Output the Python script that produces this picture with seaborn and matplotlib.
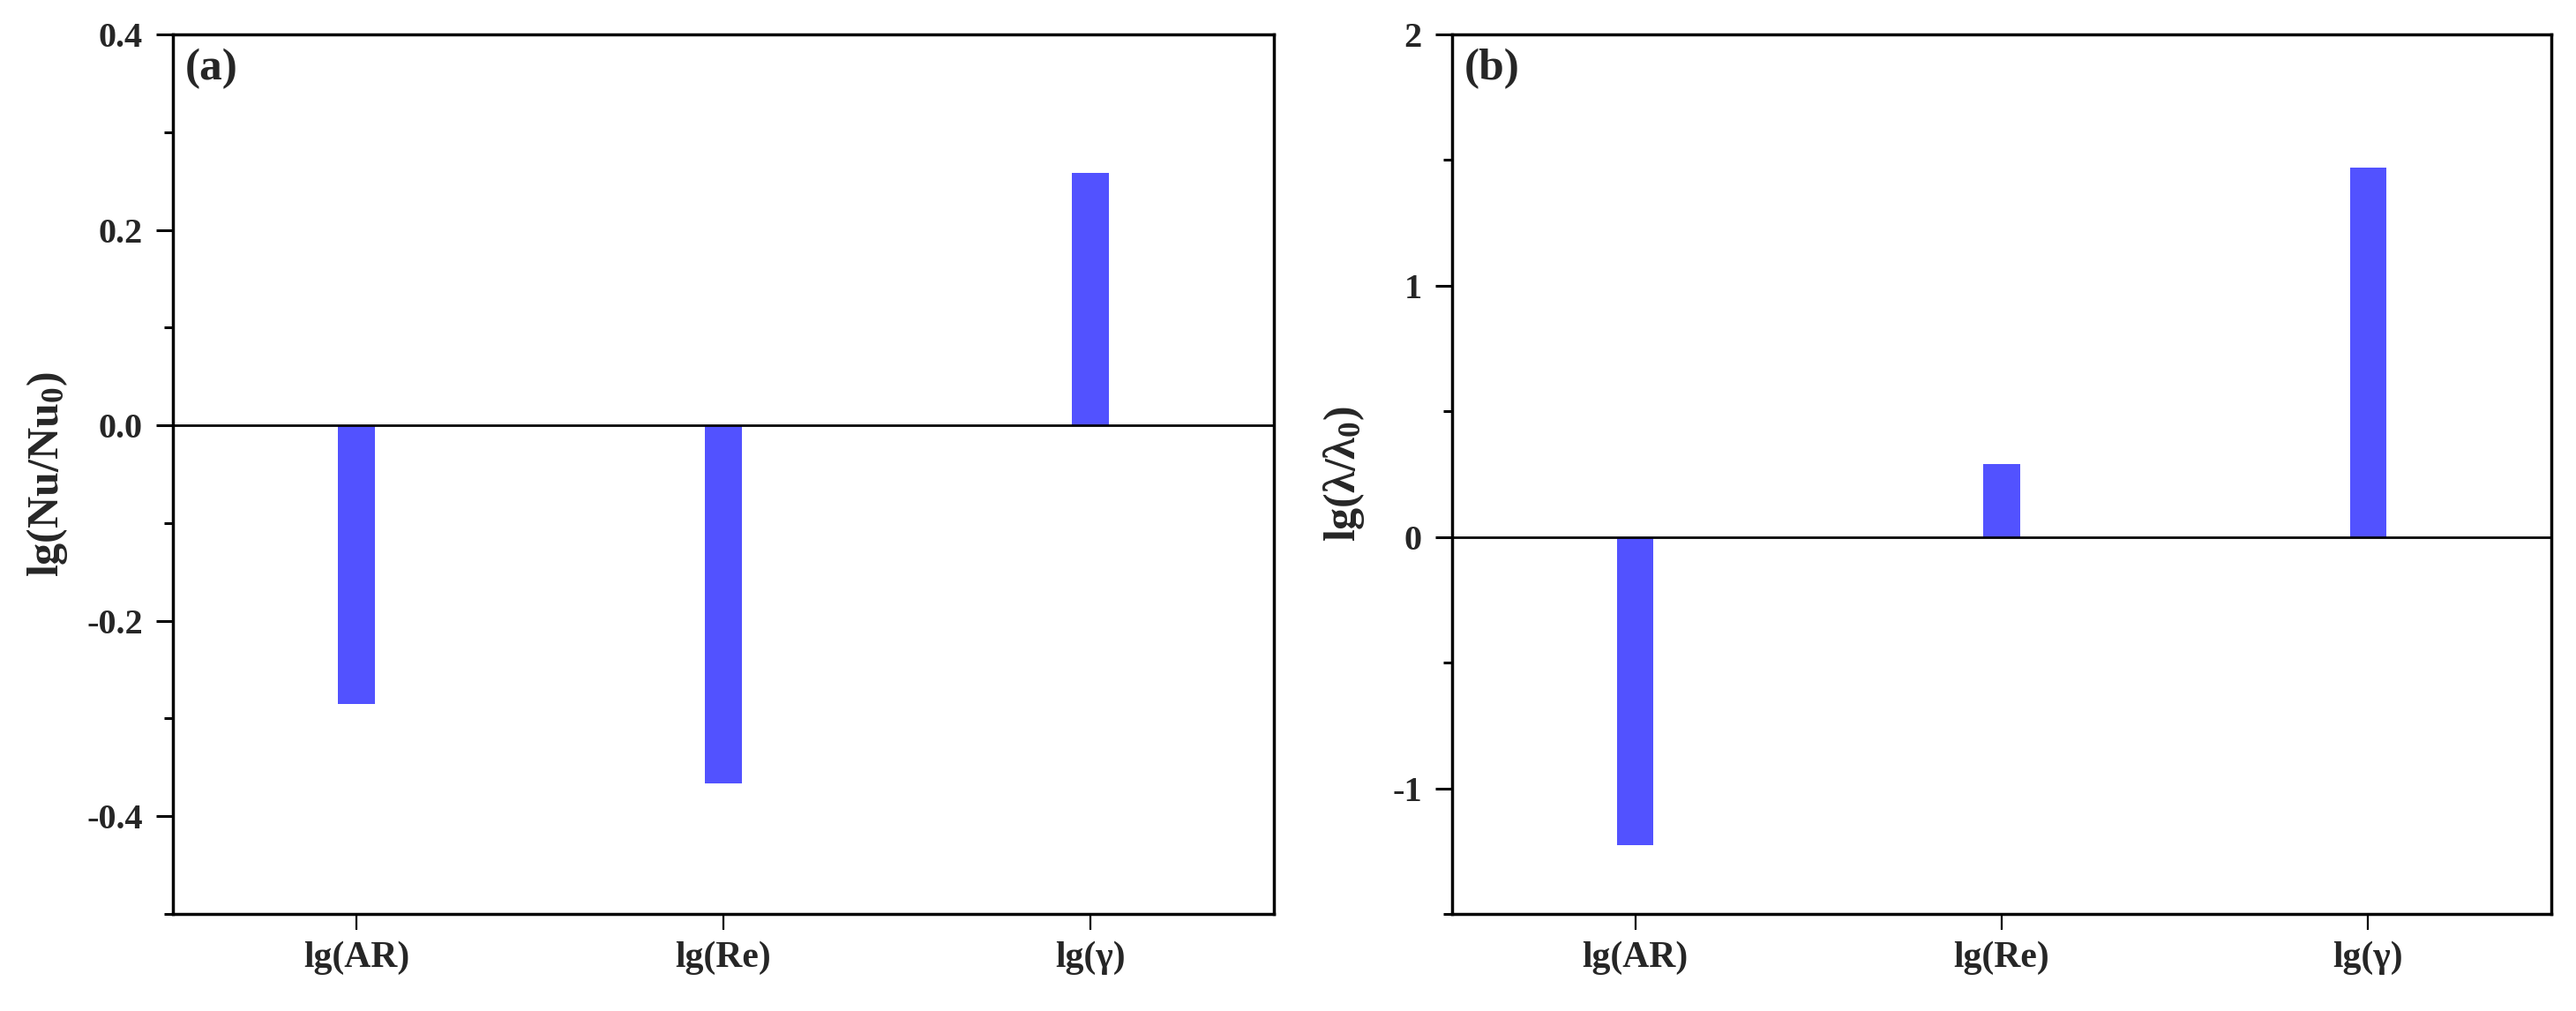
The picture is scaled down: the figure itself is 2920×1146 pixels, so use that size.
import matplotlib
matplotlib.use("Agg")
import matplotlib.pyplot as plt
import seaborn as sns
import pandas as pd
from matplotlib.ticker import MultipleLocator, FormatStrFormatter

categories = ["lg(AR)", "lg(Re)", "lg(γ)"]
nu_values = [-0.285, -0.366, 0.258]
lam_values = [-1.227, 0.29, 1.47]
panel_labels = ["(a)", "(b)"]
ylabels = [r"lg(Nu/Nu$_\mathbf{0}$)", r"lg(λ/λ$_\mathbf{0}$)"]

sns.set_theme(style="ticks")
plt.rcParams["font.family"] = ["Liberation Serif", "DejaVu Serif"]
plt.rcParams["font.weight"] = "bold"
plt.rcParams["axes.unicode_minus"] = False
plt.rcParams["mathtext.fontset"] = "custom"
plt.rcParams["mathtext.rm"] = "Liberation Serif:bold"
plt.rcParams["mathtext.bf"] = "Liberation Serif:bold"
plt.rcParams["mathtext.it"] = "Liberation Serif:bold"

bar_color = "#5252FF"
W, H = 2920, 1146
fig = plt.figure(figsize=(W / 100, H / 100), dpi=100)

lefts = [196, 1646]
right_edges = [1444, 2892]
top_px, bot_px = 39, 1036
labelpads = [14, 21]

configs = [
    dict(values=nu_values, ylim=(-0.5, 0.4), major=0.2, minor=0.1, fmt="%.1f"),
    dict(values=lam_values, ylim=(-1.5, 2.0), major=1.0, minor=0.5, fmt="%d"),
]

for i, cfg in enumerate(configs):
    ax = fig.add_axes([lefts[i] / W, 1 - bot_px / H,
                       (right_edges[i] - lefts[i]) / W, (bot_px - top_px) / H])
    df = pd.DataFrame({"cat": categories, "val": cfg["values"]})
    sns.barplot(data=df, x="cat", y="val", ax=ax, color=bar_color,
                saturation=1, width=0.1, edgecolor=bar_color, linewidth=0)
    ax.axhline(0, color="black", lw=2.0, zorder=3)
    ax.set_xlim(-0.5, 2.5)
    ax.set_ylim(*cfg["ylim"])
    ax.yaxis.set_major_locator(MultipleLocator(cfg["major"]))
    ax.yaxis.set_minor_locator(MultipleLocator(cfg["minor"]))
    ax.yaxis.set_major_formatter(FormatStrFormatter(cfg["fmt"]))
    for s in ax.spines.values():
        s.set_linewidth(2.5)
        s.set_color("black")
    ax.tick_params(axis="y", which="major", direction="out", length=13.5,
                   width=2.2, labelsize=29, color="black", pad=11)
    ax.tick_params(axis="y", which="minor", direction="out", length=7,
                   width=2.2, color="black")
    ax.tick_params(axis="x", which="major", direction="out", length=13,
                   width=1.6, labelsize=30, color="black", pad=9)
    for lab in ax.get_xticklabels() + ax.get_yticklabels():
        lab.set_fontweight("bold")
    ax.set_xlabel("")
    ax.set_ylabel(ylabels[i], fontsize=36, fontweight="bold",
                  labelpad=labelpads[i])
    ax.text(0.011, 0.984, panel_labels[i], transform=ax.transAxes,
            ha="left", va="top", fontsize=37, fontweight="bold")

fig.savefig("out.png", dpi=100, facecolor="white")
